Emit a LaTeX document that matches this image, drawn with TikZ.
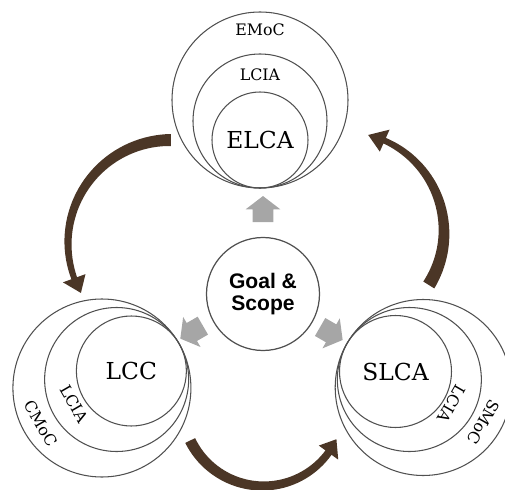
\documentclass[tikz,border=0pt]{standalone}
\usepackage{fontspec}
\setmainfont{DejaVu Serif}
\newfontfamily\goalfont{Liberation Sans}
\usetikzlibrary{positioning,shapes.arrows}

\definecolor{ringline}{HTML}{505050}
\definecolor{cyclebrown}{HTML}{4B3626}
\definecolor{blockgray}{HTML}{A6A6A6}

% tapered curved arrow round a centre
% #1 centre, #2 radius, #3 tail angle, #4 neck angle, #5 tip angle, #6 tail width, #7 neck width
\newcommand{\cyclearrow}[7]{%
  \fill[cyclebrown, shift={(#1)}]
    plot[domain=#3:#4, samples=40] (\x:{#2+(#6+(#7-#6)*(\x-(#3))/((#4)-(#3)))/2})
    -- (#4:{#2+0.24}) -- (#5:#2) -- (#4:{#2-0.24})
    -- plot[domain=#4:#3, samples=40] (\x:{#2-(#6+(#7-#6)*(\x-(#3))/((#4)-(#3)))/2})
    -- cycle;}

\begin{document}
\begin{tikzpicture}[
  % STYLES
  ring/.style={circle, draw=ringline, line width=0.6pt, inner sep=0pt},
  bigtag/.style={font=\fontsize{13.3}{15}\selectfont, inner sep=0pt},
  smalltag/.style={font=\fontsize{9}{10}\selectfont, inner sep=0pt},
  goalc/.style={circle, draw=ringline, line width=0.7pt, minimum size=2.26cm,
    align=center, font=\goalfont\bfseries\fontsize{12}{13}\selectfont},
  block/.style={single arrow, fill=blockgray, draw=none,
    inner xsep=0pt, inner ysep=0.2cm,
    minimum height=0.52cm, minimum width=0.68cm,
    single arrow head extend=0.14cm, single arrow head indent=0pt,
    single arrow tip angle=105}]

  \useasboundingbox (-5.26,-3.90) rectangle (4.84,5.88);

  \node[goalc] (goal) at (0,0) {Goal \&\\Scope};

  % touching points of the three circle groups
  \coordinate (te) at (-0.06,2.12);
  \coordinate (tc) at (-1.68,-0.99);
  \coordinate (ts) at (1.68,-0.99);

  % ELCA group
  \node[ring, minimum size=3.52cm] (emoc) at ([yshift=1.76cm]te) {};
  \node[ring, minimum size=2.68cm] (lciae) at ([yshift=1.34cm]te) {};
  \node[ring, minimum size=1.92cm] (elca) at ([yshift=0.96cm]te) {};
  \node[bigtag] (elcat) at (elca) {ELCA};
  \node[smalltag] (emoct) at ([yshift=-0.36cm]emoc.north) {EMoC};
  \node[smalltag] (lciaet) at ([yshift=-0.42cm]lciae.north) {LCIA};

  % LCC group
  \node[ring, minimum size=3.56cm] (cmoc) at ([shift={(210:1.78)}]tc) {};
  \node[ring, minimum size=2.88cm] (lciac) at ([shift={(210:1.44)}]tc) {};
  \node[ring, minimum size=2.2cm] (lcc) at ([shift={(210:1.1)}]tc) {};
  \node[bigtag] (lcct) at (lcc) {LCC};
  \node[smalltag, rotate=-60] (cmoct) at ([shift={(30:0.38)}]cmoc.210) {CMoC};
  \node[smalltag, rotate=-60] (lciact) at ([shift={(30:0.48)}]lciac.210) {LCIA};

  % SLCA group
  \node[ring, minimum size=3.52cm] (smoc) at ([shift={(330:1.76)}]ts) {};
  \node[ring, minimum size=2.88cm] (lcias) at ([shift={(330:1.44)}]ts) {};
  \node[ring, minimum size=2.24cm] (slca) at ([shift={(330:1.12)}]ts) {};
  \node[bigtag] (slcat) at (slca) {SLCA};
  \node[smalltag, rotate=240] (smoct) at ([shift={(150:0.38)}]smoc.330) {SMoC};
  \node[smalltag, rotate=240] (lciast) at ([shift={(150:0.48)}]lcias.330) {LCIA};

  % grey arrows out of goal & scope
  \node[block, rotate=90] (upb) at ([shift={(90:1.62)}]goal.center) {};
  \node[block, rotate=210] (leftb) at ([shift={(208:1.54)}]goal.center) {};
  \node[block, rotate=330] (rightb) at ([shift={(330:1.50)}]goal.center) {};

  % brown cycle arrows
  \coordinate (cl) at (-1.84,1.02);
  \coordinate (cr) at (1.62,1.24);
  \coordinate (cb) at (0,-2.22);
  \cyclearrow{cl}{2.06}{90}{200}{209}{0.24}{0.12}
  \cyclearrow{cr}{2.0}{-32}{66}{76}{0.26}{0.12}
  \cyclearrow{cb}{1.62}{206}{324}{335}{0.22}{0.15}
\end{tikzpicture}
\end{document}
